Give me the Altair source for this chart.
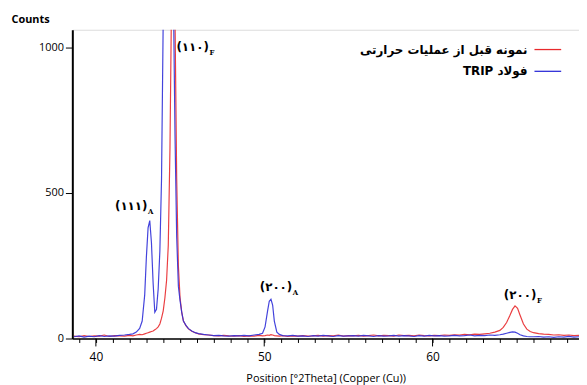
import altair as alt
import pandas as pd

# 2-theta positions (degrees)
two_theta = [
    38.7, 39.0, 39.3, 39.6, 39.9, 40.2, 40.5, 40.8, 41.1, 41.4,
    41.7, 42.0, 42.2, 42.4, 42.6, 42.75, 42.9, 43.0, 43.1, 43.2,
    43.3, 43.4, 43.5, 43.6, 43.7, 43.8, 43.9, 44.0, 44.1, 44.2,
    44.3, 44.4, 44.5, 44.6, 44.7, 44.8, 44.9, 45.0, 45.1, 45.2,
    45.35, 45.5, 45.7, 45.9, 46.1, 46.4, 46.7, 47.0, 47.3, 47.6,
    47.9, 48.2, 48.5, 48.8, 49.1, 49.4, 49.7, 49.9, 50.05, 50.2,
    50.3, 50.4, 50.5, 50.6, 50.75, 50.9, 51.1, 51.4, 51.7, 52.0,
    52.3, 52.6, 52.9, 53.2, 53.5, 53.8, 54.1, 54.4, 54.7, 55.0,
    55.3, 55.6, 55.9, 56.2, 56.5, 56.8, 57.1, 57.4, 57.7, 58.0,
    58.3, 58.6, 58.9, 59.2, 59.5, 59.8, 60.1, 60.4, 60.7, 61.0,
    61.3, 61.6, 61.9, 62.2, 62.5, 62.8, 63.1, 63.4, 63.7, 64.0,
    64.2, 64.4, 64.6, 64.75, 64.9, 65.05, 65.2, 65.4, 65.6, 65.8,
    66.0, 66.3, 66.6, 66.9, 67.2, 67.5, 67.8, 68.1, 68.4, 68.7,
    69.0,
]

# TRIP steel (blue)
counts_trip = [
    6, 9, 5, 8, 6, 10, 7, 9, 8, 11,
    12, 14, 16, 22, 35, 60, 150, 280, 380, 405,
    330, 190, 90, 100, 170, 300, 550, 1100, 2000, 2800,
    3000, 2700, 2000, 1200, 700, 350, 180, 130, 90, 60,
    45, 34, 26, 20, 17, 14, 12, 10, 11, 9,
    8, 10, 9, 11, 9, 12, 14, 18, 40, 95,
    128, 135, 115, 60, 22, 14, 10, 9, 11, 8,
    9, 7, 10, 8, 11, 9, 7, 10, 8, 9,
    10, 8, 11, 9, 7, 10, 8, 9, 11, 8,
    10, 9, 7, 10, 8, 11, 9, 10, 8, 9,
    11, 9, 10, 12, 9, 11, 10, 12, 11, 13,
    15, 18, 21, 23, 22, 18, 13, 9, 7, 6,
    6, 7, 5, 6, 4, 6, 5, 7, 5, 6,
    5,
]

# Sample before heat treatment (red)
counts_before = [
    8, 6, 10, 7, 9, 8, 12, 7, 10, 9,
    8, 11, 9, 12, 14, 13, 16, 18, 20, 22,
    24, 26, 30, 34, 40, 50, 70, 95, 140, 200,
    320, 650, 1200, 1450, 1100, 550, 250, 140, 90, 60,
    44, 33, 25, 20, 16, 13, 12, 10, 9, 11,
    9, 8, 10, 7, 9, 8, 11, 9, 10, 12,
    11, 13, 12, 10, 9, 8, 10, 7, 9, 8,
    10, 8, 9, 11, 8, 10, 9, 12, 8, 10,
    9, 11, 8, 10, 12, 9, 11, 10, 8, 12,
    10, 11, 9, 12, 10, 9, 11, 10, 12, 11,
    13, 12, 14, 13, 15, 14, 16, 18, 22, 28,
    38, 55, 80, 100, 112, 104, 80, 50, 32, 24,
    20, 17, 15, 14, 12, 13, 11, 12, 10, 11,
    10,
]

series_names = ["نمونه قبل از عملیات حرارتی", "\u202bفولاد TRIP\u202c"]
series_colors = ["#e8292c", "#2f2fd8"]

peak_labels = ["(۱۱۱)", "(۱۱۰)", "(۲۰۰)", "(۲۰۰)"]
peak_subs = ["A", "F", "A", "F"]
peak_x = [42.1, 45.75, 50.7, 65.2]
peak_y = [455, 1000, 178, 150]

x_major = [40, 50, 60]
x_minor = list(range(39, 69))
y_ticks = [0, 500, 1000]

df = pd.concat([
    pd.DataFrame({"x": two_theta, "y": counts_before, "s": series_names[0], "o": 2}),
    pd.DataFrame({"x": two_theta, "y": counts_trip, "s": series_names[1], "o": 1}),
])

ann = pd.DataFrame({"label": peak_labels, "sub": peak_subs, "x": peak_x, "y": peak_y})
leg = pd.DataFrame({"s": series_names, "row": [0, 1]})
majors = pd.DataFrame({"x": x_major})

H = 312
xs = alt.Scale(domain=[38.6, 68.7], nice=False, zero=False)
ys = alt.Scale(domain=[0, 1061], nice=False)
cs = alt.Scale(domain=series_names, range=series_colors)

lines = alt.Chart(df).mark_line(clip=True, strokeWidth=1.2, opacity=0.9).encode(
    x=alt.X("x:Q", scale=xs, axis=alt.Axis(
        values=x_minor,
        labelExpr="datum.value % 10 === 0 ? datum.label : ''",
        tickSize=4,
        labelOverlap=False,
        title="Position [°2Theta] (Copper (Cu))",
        grid=False, domainColor="black", domainWidth=1.5, tickColor="black",
        labelFontSize=12, labelFont="Open Sans", labelColor="black", labelPadding=9,
        titleFont="Open Sans", titleFontSize=11, titleFontWeight="normal", titleColor="black",
        titlePadding=10, labelFlush=False,
    )),
    y=alt.Y("y:Q", scale=ys, axis=alt.Axis(
        values=y_ticks, title="Counts", grid=False, tickSize=7, format="d",
        domainColor="black", domainWidth=2, tickColor="black",
        labelFontSize=11, labelFont="Open Sans", labelColor="black", labelPadding=2,
        titleAngle=0, titleX=-62, titleY=-10, titleAlign="left", titleBaseline="middle",
        titleFont="Open Sans", titleFontSize=11, titleFontWeight="bold", titleColor="black",
    )),
    color=alt.Color("s:N", scale=cs, legend=None),
    detail="s:N",
    order=alt.Order("o:Q"),
)

major_ticks = alt.Chart(majors).mark_rule(color="black", strokeWidth=1, clip=False).encode(
    x=alt.X("x:Q", scale=xs, axis=None),
    y=alt.value(H),
    y2=alt.value(H + 8),
)

ann_main = alt.Chart(ann).mark_text(
    font="DejaVu Sans", fontSize=12, fontWeight="bold", color="black", align="center", baseline="middle"
).encode(
    x=alt.X("x:Q", scale=xs, axis=None),
    y=alt.Y("y:Q", scale=ys, axis=None),
    text="label:N",
)

ann_sub = alt.Chart(ann).mark_text(
    font="DejaVu Serif", fontSize=7, fontWeight="bold", color="black", align="left", baseline="middle",
    dx=17, dy=6
).encode(
    x=alt.X("x:Q", scale=xs, axis=None),
    y=alt.Y("y:Q", scale=ys, axis=None),
    text="sub:N",
)

leg_text = alt.Chart(leg).mark_text(
    font="DejaVu Sans", fontSize=12, fontWeight="bold", color="black", align="right", baseline="middle"
).encode(
    x=alt.value(460),
    y=alt.Y("row:Q", scale=alt.Scale(domain=[0, 1], range=[20, 42]), axis=None),
    text="s:N",
)

leg_line = alt.Chart(leg).mark_rule(strokeWidth=1.3).encode(
    x=alt.value(467), x2=alt.value(494),
    y=alt.Y("row:Q", scale=alt.Scale(domain=[0, 1], range=[20, 42]), axis=None),
    color=alt.Color("s:N", scale=cs, legend=None),
)

chart = alt.layer(lines, major_ticks, ann_main, ann_sub, leg_line, leg_text).resolve_scale(
    y="independent"
).resolve_axis(x="independent", y="independent").properties(
    width=512, height=H,
    autosize=alt.AutoSizeParams(type="none"),
    padding={"left": 65, "top": 20, "right": 0, "bottom": 45},
).configure_view(stroke="black", strokeWidth=1.5).configure(background="white")

chart.save("out.html", embed_options={"renderer": "svg", "actions": False})
